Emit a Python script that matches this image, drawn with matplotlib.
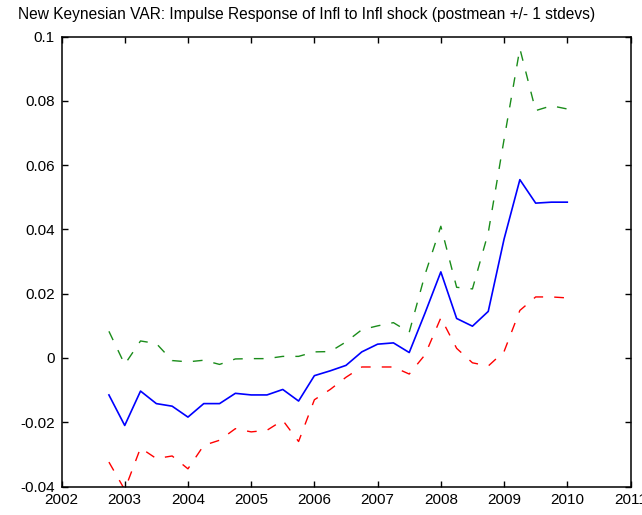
import matplotlib
matplotlib.use("Agg")
import matplotlib.pyplot as plt
from matplotlib.ticker import FixedLocator, FixedFormatter

plt.rcParams['font.family'] = ['Liberation Sans', 'DejaVu Sans']

title = "New Keynesian VAR: Impulse Response of Infl to Infl shock (postmean +/- 1 stdevs)"

quarters = [2002.75, 2003.0, 2003.25, 2003.5, 2003.75, 2004.0, 2004.25, 2004.5, 2004.75, 2005.0,
            2005.25, 2005.5, 2005.75, 2006.0, 2006.25, 2006.5, 2006.75, 2007.0, 2007.25, 2007.5,
            2007.75, 2008.0, 2008.25, 2008.5, 2008.75, 2009.0, 2009.25, 2009.5, 2009.75, 2010.0]

postmean = [-0.0115, -0.021, -0.0103, -0.0142, -0.015, -0.0184, -0.0142, -0.0142, -0.011, -0.0115,
            -0.0115, -0.0098, -0.0134, -0.0055, -0.004, -0.0023, 0.0019, 0.0043, 0.0047, 0.0017,
            0.014, 0.0268, 0.0123, 0.0099, 0.0145, 0.037, 0.0555, 0.0482, 0.0485, 0.0485]

upper = [0.0083, -0.002, 0.0053, 0.0045, -0.0008, -0.0012, -0.0007, -0.002, -0.0003, -0.0002,
         -0.0002, 0.0005, 0.0005, 0.0019, 0.002, 0.005, 0.0088, 0.0100, 0.011, 0.008,
         0.026, 0.041, 0.022, 0.0215, 0.039, 0.068, 0.0963, 0.077, 0.0785, 0.0775]

lower = [-0.0324, -0.041, -0.028, -0.0313, -0.0305, -0.0345, -0.0272, -0.0256, -0.022, -0.023,
         -0.0225, -0.0194, -0.026, -0.013, -0.0098, -0.006, -0.0028, -0.0028, -0.0028, -0.005,
         0.001, 0.0125, 0.003, -0.0015, -0.0025, 0.002, 0.0148, 0.019, 0.019, 0.0187]

xticks = [2002, 2003, 2004, 2005, 2006, 2007, 2008, 2009, 2010, 2011]
yticks = [-0.04, -0.02, 0, 0.02, 0.04, 0.06, 0.08, 0.1]
ytick_labels = ["-0.04", "-0.02", "0", "0.02", "0.04", "0.06", "0.08", "0.1"]

fig = plt.figure(figsize=(6.42, 5.15), dpi=100)
ax = fig.add_axes([61.5 / 642, 1 - 486.5 / 515, (630.5 - 61.5) / 642, (486.5 - 36.7) / 515])

ax.plot(quarters, upper, color='#1a8c1a', lw=1.0, linestyle=(0, (7, 8)))
ax.plot(quarters, postmean, color='#0000ff', lw=1.2)
ax.plot(quarters, lower, color='#ff0000', lw=1.0, linestyle=(0, (7, 8)))

ax.set_xlim(2002, 2011)
ax.set_ylim(-0.04, 0.1)
ax.xaxis.set_major_locator(FixedLocator(xticks))
ax.yaxis.set_major_locator(FixedLocator(yticks))
ax.yaxis.set_major_formatter(FixedFormatter(ytick_labels))
ax.tick_params(direction='in', length=4, width=1, top=True, right=True, labelsize=11, pad=5)
for s in ax.spines.values():
    s.set_linewidth(1.1)

fig.text(18 / 642, 1 - 14 / 515, title, fontsize=11.2, ha='left', va='center')

fig.savefig("out.png", dpi=100)
